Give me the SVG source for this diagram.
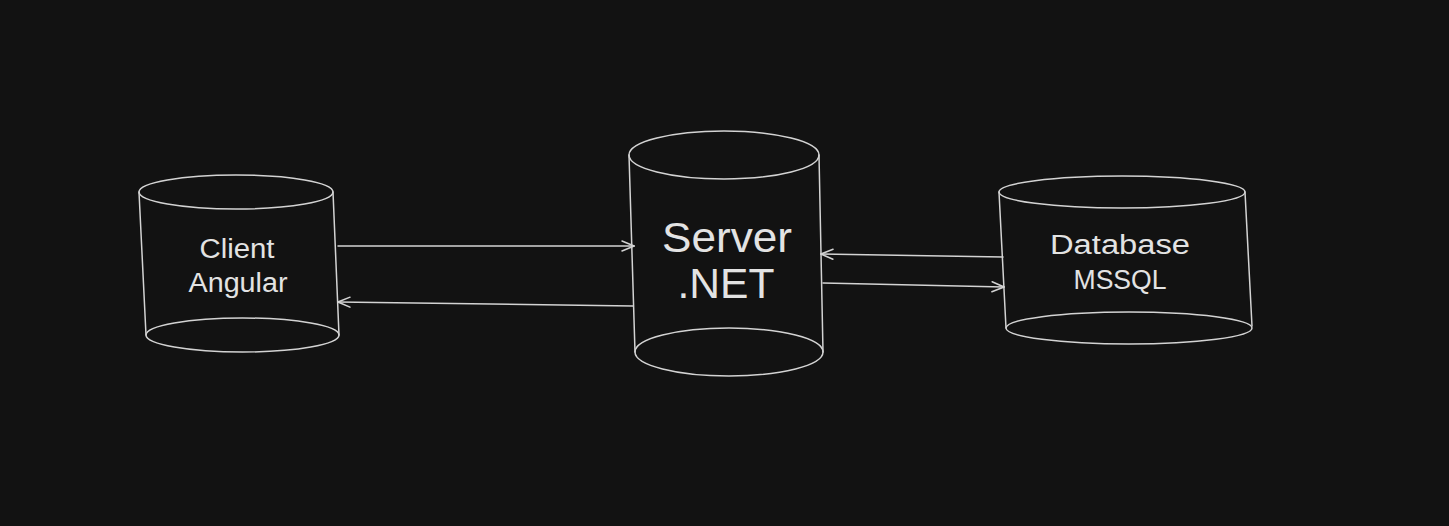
<svg xmlns="http://www.w3.org/2000/svg" width="1449" height="526" viewBox="0 0 1449 526">
<defs>
<style>
.s{fill:none;stroke:#d3d3d3;stroke-width:1.5;stroke-linecap:round;stroke-linejoin:round}
.t{fill:#e3e3e3;font-family:"Liberation Sans",Arial,sans-serif;text-anchor:middle}
.sm{font-size:27px}
.lg{font-size:42px}
</style>
<marker id="ah" viewBox="0 0 14 14" refX="13" refY="7" markerWidth="14" markerHeight="14" markerUnits="userSpaceOnUse" orient="auto-start-reverse">
<path d="M1,2 L13,7 L1,12" fill="none" stroke="#d3d3d3" stroke-width="1.5" stroke-linecap="round"/>
</marker>
</defs>
<rect width="1449" height="526" fill="#121212"/>
<g id="connectors">
<line class="s" x1="338" y1="246" x2="634" y2="246" marker-end="url(#ah)"/>
<line class="s" x1="633" y1="306" x2="338" y2="302" marker-end="url(#ah)"/>
<line class="s" x1="1003" y1="257" x2="821" y2="254" marker-end="url(#ah)"/>
<line class="s" x1="823" y1="283" x2="1004" y2="287" marker-end="url(#ah)"/>
</g>
<g id="client">
<ellipse class="s" cx="236" cy="192" rx="97" ry="17"/>
<line class="s" x1="139" y1="192" x2="146" y2="335"/>
<line class="s" x1="333" y1="192" x2="339" y2="335"/>
<ellipse class="s" cx="242.5" cy="335" rx="96.5" ry="17"/>
<text class="t sm" x="237" y="258" textLength="75" lengthAdjust="spacingAndGlyphs">Client</text>
<text class="t sm" x="238" y="292" textLength="99" lengthAdjust="spacingAndGlyphs">Angular</text>
</g>
<g id="server">
<ellipse class="s" cx="724" cy="155" rx="95" ry="24"/>
<line class="s" x1="629" y1="155" x2="635" y2="352"/>
<line class="s" x1="819" y1="155" x2="823" y2="352"/>
<ellipse class="s" cx="729" cy="352" rx="94" ry="24"/>
<text class="t lg" x="727" y="252" textLength="130" lengthAdjust="spacingAndGlyphs">Server</text>
<text class="t lg" x="726" y="298" textLength="97" lengthAdjust="spacingAndGlyphs">.NET</text>
</g>
<g id="database">
<ellipse class="s" cx="1122" cy="192" rx="123" ry="16"/>
<line class="s" x1="999" y1="192" x2="1006" y2="328"/>
<line class="s" x1="1245" y1="192" x2="1252" y2="326"/>
<ellipse class="s" cx="1129" cy="328" rx="123" ry="16"/>
<text class="t sm" x="1120" y="254" textLength="140" lengthAdjust="spacingAndGlyphs">Database</text>
<text class="t sm" x="1120" y="289" textLength="93" lengthAdjust="spacingAndGlyphs">MSSQL</text>
</g>
</svg>
